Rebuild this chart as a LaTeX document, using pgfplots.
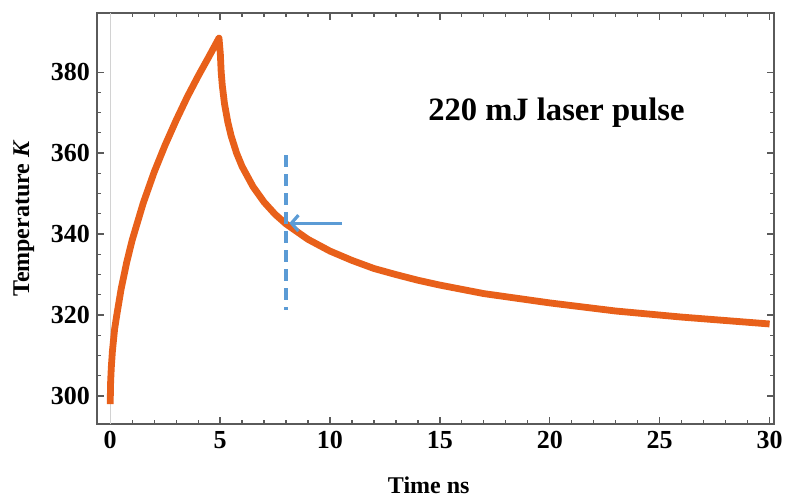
\documentclass[border=0pt]{standalone}
\usepackage{fontspec}
\setmainfont{Liberation Serif}
\usepackage{pgfplots}
\pgfplotsset{compat=1.18}
\usetikzlibrary{arrows.meta}
\definecolor{curveOrange}{HTML}{E8601A}
\definecolor{markBlue}{HTML}{5B9BD5}
\definecolor{frameGray}{HTML}{5A5A5A}

\begin{document}
\begin{tikzpicture}
\path[use as bounding box] (-48.5pt,-38.5pt) rectangle (344.5pt,212pt);
\begin{axis}[
    scale only axis,
    width=338.5pt, height=205.5pt,
    xmin=-0.6, xmax=30.2,
    ymin=293.1, ymax=394.6,
    xtick={0,5,...,30},
    ytick={300,320,...,380},
    minor x tick num=4,
    minor y tick num=3,
    major tick length=3.5pt,
    minor tick length=2pt,
    axis line style={frameGray, line width=0.8pt},
    tick style={frameGray, line width=0.6pt},
    /pgf/number format/assume math mode=true,
    tick label style={font=\bfseries\fontsize{13}{13}\selectfont},
    xlabel={Time ns},
    ylabel={Temperature \textit{K}},
    label style={font=\bfseries\fontsize{12}{12}\selectfont},
    xlabel style={at={(axis description cs:0.49,-0.148)}, anchor=center},
    ylabel style={at={(axis description cs:-0.108,0.5)}, anchor=center},
    clip=false,
]
% light axis line at t = 0
\addplot[gray!35, line width=0.6pt] coordinates {(0,293.1) (0,394.6)};

% temperature curve
\addplot[curveOrange, line width=3.4pt, line join=round] coordinates {
    (0.0,298) (0.02,303.5) (0.05,307) (0.1,311) (0.2,316.5) (0.3,320)
    (0.5,326.5) (0.75,333) (1.0,338.5) (1.5,347.6) (2.0,355.3)
    (2.5,362) (3.0,368.1) (3.5,373.8) (4.0,379) (4.5,383.9) (4.95,388.4)
    (5.01,384.6) (5.05,380) (5.1,376.7) (5.2,372.2) (5.35,367.7)
    (5.5,364.3) (5.75,360) (6.0,356.7) (6.5,351.7) (7.0,347.9)
    (7.5,344.9) (8.0,342.5) (9.0,338.7) (10,335.8) (11,333.5)
    (12,331.5) (13,330) (14,328.6) (15,327.4) (17,325.3)
    (20,323) (23,321) (26,319.5) (30,317.8)
};

% marker at t = 8 ns
\addplot[markBlue, line width=1.6pt, dash pattern=on 6pt off 3.5pt] coordinates {(8,359.5) (8,321.2)};
\addplot[markBlue, line width=1.6pt, -{Straight Barb[length=3.5pt,width=8pt]}] coordinates {(10.55,342.7) (8.15,342.7)};

\node[font=\bfseries\fontsize{16.3}{16}\selectfont] at (axis cs:20.3,370.1) {220 mJ laser pulse};
\end{axis}
\end{tikzpicture}
\end{document}
